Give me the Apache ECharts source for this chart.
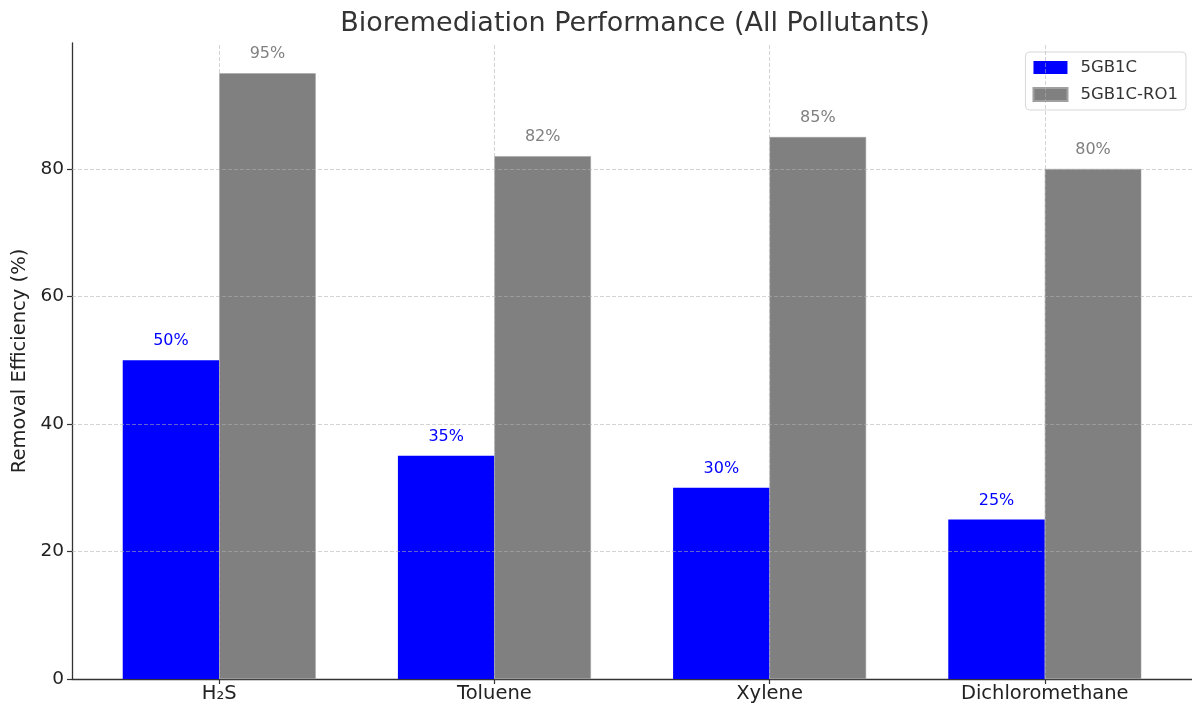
<!DOCTYPE html>
<html>
<head>
<meta charset="utf-8">
<script src="https://cdn.jsdelivr.net/npm/echarts@6/dist/echarts.min.js"></script>
<style>html,body{margin:0;padding:0;background:#fff}#c{width:1192px;height:704px}</style>
</head>
<body>
<div id="c"></div>
<script>
const categories = ['H\u2082S', 'Toluene', 'Xylene', 'Dichloromethane'];
const series5GB1C = [50, 35, 30, 25];
const series5GB1CRO1 = [95, 82, 85, 80];
const yTicks = [0, 20, 40, 60, 80];

const FONT = '"DejaVu Sans", sans-serif';
const gridLine = { color: 'rgba(176,176,176,0.7)', width: 0.8, type: [4, 2] };
const xIdx = categories.map((c, i) => i);

const chart = echarts.init(document.getElementById('c'));
chart.setOption({
  animation: false,
  textStyle: { fontFamily: FONT },
  title: {
    text: 'Bioremediation Performance (All Pollutants)',
    left: 630, top: 5, textAlign: 'center',
    textStyle: { fontFamily: FONT, fontSize: 27, fontWeight: 'normal', color: '#333' }
  },
  legend: {
    orient: 'vertical', right: 6, top: 52,
    itemWidth: 34, itemHeight: 13, itemGap: 10,
    icon: 'rect',
    padding: [7, 8, 7, 7],
    borderColor: '#d8d8d8', borderWidth: 1, borderRadius: 4,
    textStyle: { fontFamily: FONT, fontSize: 16.5, color: '#333', padding: [0, 0, 0, 8] },
    data: ['5GB1C', '5GB1C-RO1']
  },
  grid: { left: 72, right: 0, top: 43, bottom: 25, containLabel: false },
  xAxis: {
    type: 'value', min: -0.535, max: 3.535,
    axisLine: { show: true, onZero: false, lineStyle: { color: '#333', width: 1.3 } },
    axisTick: { show: true, length: 5, lineStyle: { color: '#333', width: 1.2 }, customValues: xIdx },
    axisLabel: { customValues: xIdx, formatter: v => categories[Math.round(v)], fontFamily: FONT, fontSize: 19.5, color: '#222', margin: 5 },
    splitLine: { show: false }
  },
  yAxis: {
    type: 'value', min: 0, max: 99.75,
    name: 'Removal Efficiency (%)', nameLocation: 'middle', nameGap: 41,
    nameTextStyle: { fontFamily: FONT, fontSize: 19.5, color: '#222' },
    axisLine: { show: true, onZero: false, lineStyle: { color: '#333', width: 1.3 } },
    axisTick: { show: true, length: 5, lineStyle: { color: '#333', width: 1.2 }, customValues: yTicks },
    axisLabel: { customValues: yTicks, fontFamily: FONT, fontSize: 18.5, color: '#222', margin: 8 },
    splitLine: { show: false }
  },
  series: [
    {
      name: '5GB1C', type: 'bar', barWidth: 96.5, barGap: '0%',
      itemStyle: { color: '#0000ff' },
      data: series5GB1C.map((v, i) => [i, v]),
      label: { show: true, position: 'top', distance: 11, formatter: p => p.value[1] + '%', fontFamily: FONT, fontSize: 16, color: '#0000ff' }
    },
    {
      name: '5GB1C-RO1', type: 'bar', barWidth: 96.5, barGap: '0%',
      itemStyle: { color: '#808080', borderColor: '#a0a0a0', borderWidth: 0.5 },
      data: series5GB1CRO1.map((v, i) => [i, v]),
      label: { show: true, position: 'top', distance: 11, formatter: p => p.value[1] + '%', fontFamily: FONT, fontSize: 16, color: '#808080' }
    },
    {
      name: 'grid', type: 'line', data: [], silent: true,
      markLine: {
        silent: true, symbol: 'none', label: { show: false }, z: 10,
        lineStyle: gridLine,
        data: yTicks.filter(v => v > 0).map(v => ({ yAxis: v })).concat(xIdx.map(i => ({ xAxis: i })))
      }
    }
  ]
});
</script>
</body>
</html>
